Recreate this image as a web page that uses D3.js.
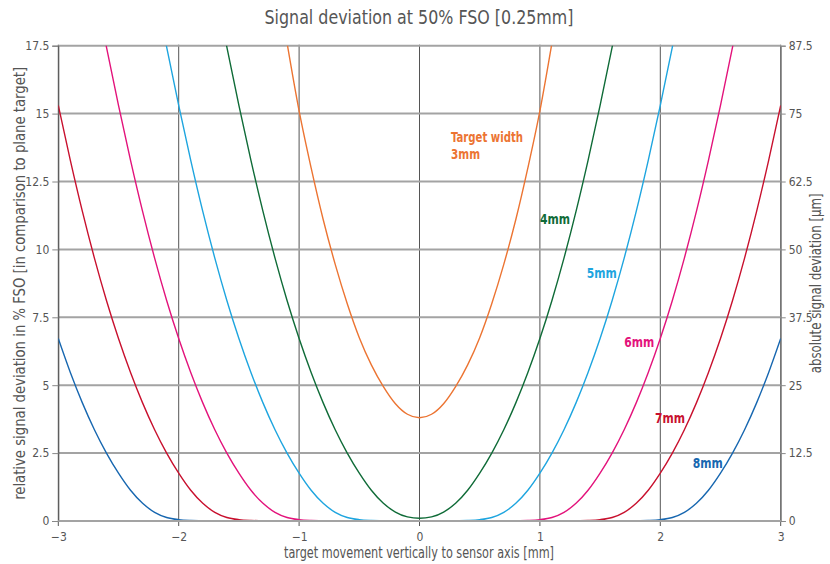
<!DOCTYPE html>
<html>
<head>
<meta charset="utf-8">
<script src="https://cdn.jsdelivr.net/npm/d3@7"></script>
<style>
  html, body { margin: 0; padding: 0; background: #fff; }
  svg { display: block; }
  text { font-family: "Liberation Sans Narrow", "DejaVu Sans Condensed", "Roboto", sans-serif; }
</style>
</head>
<body>
<svg id="chart" width="830" height="564"></svg>
<script>
// ---- data ----
const title = "Signal deviation at 50% FSO [0.25mm]";
const xTitle = "target movement vertically to sensor axis [mm]";
const yTitle = "relative signal deviation in % FSO [in comparison to plane target]";
const y2Title = "absolute signal deviation [\u03BCm]";

const xTicks = [-3, -2, -1, 0, 1, 2, 3];
const yTicks = [0, 2.5, 5, 7.5, 10, 12.5, 15, 17.5];
const yTickLabels = ["0", "2.5", "5", "7.5", "10", "12.5", "15", "17.5"];
const y2TickLabels = ["0", "12.5", "25", "37.5", "50", "62.5", "75", "87.5"];

const xs = [-3.0,-2.9,-2.8,-2.7,-2.6,-2.5,-2.4,-2.3,-2.2,-2.1,
            -2.0,-1.9,-1.8,-1.7,-1.6,-1.5,-1.4,-1.3,-1.2,-1.1,
            -1.0,-0.9,-0.8,-0.7,-0.6,-0.5,-0.4,-0.3,-0.2,-0.1,
             0.0,
             0.1, 0.2, 0.3, 0.4, 0.5, 0.6, 0.7, 0.8, 0.9, 1.0,
             1.1, 1.2, 1.3, 1.4, 1.5, 1.6, 1.7, 1.8, 1.9, 2.0,
             2.1, 2.2, 2.3, 2.4, 2.5, 2.6, 2.7, 2.8, 2.9, 3.0];

const seriesNames = ["8mm", "7mm", "6mm", "5mm", "4mm", "3mm"];
const seriesColors = ["#1767b0", "#c8102e", "#e3137b", "#1ea5df", "#0f6b37", "#ec7432"];

const w8 = [6.72,5.47,4.35,3.36,2.5,1.76,1.13,0.65,0.32,0.13,
            0.05,0.02,0.01,0,0,0,0,0,0,0,
            0,0,0,0,0,0,0,0,0,0,
            0,
            0,0,0,0,0,0,0,0,0,0,
            0,0,0,0,0,0,0,0.01,0.02,0.05,
            0.13,0.32,0.65,1.13,1.76,2.5,3.36,4.35,5.47,6.72];
const w7 = [15.3,13.28,11.4,9.68,8.12,6.72,5.47,4.35,3.36,2.5,
            1.76,1.13,0.65,0.32,0.13,0.05,0.02,0.01,0,0,
            0,0,0,0,0,0,0,0,0,0,
            0,
            0,0,0,0,0,0,0,0,0,0,
            0,0,0.01,0.02,0.05,0.13,0.32,0.65,1.13,1.76,
            2.5,3.36,4.35,5.47,6.72,8.12,9.68,11.4,13.28,15.3];
const w6 = [null,null,22.2,19.75,17.45,15.3,13.28,11.4,9.68,8.12,
            6.72,5.47,4.35,3.36,2.5,1.76,1.13,0.65,0.32,0.13,
            0.05,0.02,0.01,0,0,0,0,0,0,0,
            0,
            0,0,0,0,0,0,0,0.01,0.02,0.05,
            0.13,0.32,0.65,1.13,1.76,2.5,3.36,4.35,5.47,6.72,
            8.12,9.68,11.4,13.28,15.3,17.45,19.75,22.2,null,null];
const w5 = [null,null,null,null,null,null,null,22.2,19.75,17.45,
            15.3,13.28,11.4,9.68,8.12,6.72,5.47,4.35,3.36,2.5,
            1.76,1.13,0.65,0.32,0.13,0.05,0.02,0.01,0,0,
            0,
            0,0,0.01,0.02,0.05,0.13,0.32,0.65,1.13,1.76,
            2.5,3.36,4.35,5.47,6.72,8.12,9.68,11.4,13.28,15.3,
            17.45,19.75,22.2,null,null,null,null,null,null,null];
const w4 = [null,null,null,null,null,null,null,null,null,null,
            null,null,22.2,19.75,17.45,15.3,13.28,11.4,9.68,8.12,
            6.72,5.47,4.35,3.36,2.5,1.76,1.13,0.65,0.33,0.15,
            0.1,
            0.15,0.33,0.65,1.13,1.76,2.5,3.36,4.35,5.47,6.72,
            8.12,9.68,11.4,13.28,15.3,17.45,19.75,22.2,null,null,
            null,null,null,null,null,null,null,null,null,null];
const w3 = [null,null,null,null,null,null,null,null,null,null,
            null,null,null,null,null,null,null,null,20.3,17.6,
            15.1,13.0,11.1,9.45,8.0,6.75,5.75,4.95,4.32,3.93,
            3.8,
            3.93,4.32,4.95,5.75,6.75,8.0,9.45,11.1,13.0,15.1,
            17.6,20.3,null,null,null,null,null,null,null,null,
            null,null,null,null,null,null,null,null,null,null];
const seriesValues = [w8, w7, w6, w5, w4, w3];

// label anchors (data coords: x, y) for curve labels
const labelText = [["8mm"], ["7mm"], ["6mm"], ["5mm"], ["4mm"], ["Target width", "3mm"]];
const labelX = [2.27, 1.956, 1.70, 1.389, 1.0, 0.262];
const labelY = [1.94, 3.62, 6.42, 8.95, 10.95, 13.95];

// ---- drawing ----
const svg = d3.select("#chart");
const L = 58.3, R = 780.7, T = 45.7, B = 521;
const x = d3.scaleLinear().domain([-3, 3]).range([L, R]);
const y = d3.scaleLinear().domain([0, 17.5]).range([B, T]);
const y2 = d3.scaleLinear().domain([0, 87.5]).range([B, T]);

const textColor = "#555";
const ff = '"Liberation Sans Narrow", "DejaVu Sans Condensed", sans-serif';

// title
svg.append("text")
  .attr("x", 419).attr("y", 24)
  .attr("text-anchor", "middle")
  .attr("font-size", 19)
  .attr("textLength", 309).attr("lengthAdjust", "spacingAndGlyphs")
  .attr("fill", "#555")
  .text(title);

// vertical grid lines
svg.append("g").selectAll("line").data(xTicks).join("line")
  .attr("x1", d => x(d)).attr("x2", d => x(d))
  .attr("y1", T - 1).attr("y2", B + 5)
  .attr("stroke", "#555").attr("stroke-width", 1);

// horizontal grid lines (except zero, drawn later on top)
svg.append("g").selectAll("line").data(yTicks.filter(d => d > 0)).join("line")
  .attr("x1", L).attr("x2", R)
  .attr("y1", d => y(d)).attr("y2", d => y(d))
  .attr("stroke", "#a3a3a3").attr("stroke-width", 2);

// left / right axis ticks + labels
const yAxisL = d3.axisLeft(y).tickValues(yTicks).tickSize(6).tickPadding(3)
  .tickFormat((d, i) => yTickLabels[i]);
const gL = svg.append("g").attr("transform", `translate(${L},0)`).call(yAxisL);
gL.select(".domain").attr("stroke", "#555");
gL.selectAll(".tick line").attr("stroke", "#888");
gL.selectAll("text").attr("fill", textColor).attr("font-size", 12).style("font-family", ff);

const yAxisR = d3.axisRight(y2).tickValues(yTicks.map(v => v * 5)).tickSize(5).tickPadding(3)
  .tickFormat((d, i) => y2TickLabels[i]);
const gR = svg.append("g").attr("transform", `translate(${R},0)`).call(yAxisR);
gR.select(".domain").attr("stroke", "#777");
gR.selectAll(".tick line").attr("stroke", "#888");
gR.selectAll("text").attr("fill", textColor).attr("font-size", 12).style("font-family", ff);

// x axis labels
const xAxis = d3.axisBottom(x).tickValues(xTicks).tickSize(0).tickPadding(11)
  .tickFormat(d3.format("d"));
const gX = svg.append("g").attr("transform", `translate(0,${B})`).call(xAxis);
gX.select(".domain").remove();
gX.selectAll("text").attr("fill", textColor).attr("font-size", 12).style("font-family", ff);

// clip for curves
svg.append("defs").append("clipPath").attr("id", "plotclip")
  .append("rect").attr("x", L).attr("y", T).attr("width", R - L).attr("height", B - T + 2);

const line = d3.line()
  .defined(d => d[1] != null)
  .x(d => x(d[0])).y(d => y(d[1]))
  .curve(d3.curveMonotoneX);

const curves = svg.append("g").attr("clip-path", "url(#plotclip)");
seriesValues.forEach((vals, k) => {
  curves.append("path")
    .datum(xs.map((xv, i) => [xv, vals[i]]))
    .attr("fill", "none")
    .attr("stroke", seriesColors[k])
    .attr("stroke-width", 1.4)
    .attr("d", line);
});

// zero grid line on top
svg.append("line")
  .attr("x1", L).attr("x2", R).attr("y1", y(0)).attr("y2", y(0))
  .attr("stroke", "#a3a3a3").attr("stroke-width", 2);

// curve labels
const labelLen = { "8mm": 30, "7mm": 30, "6mm": 30, "5mm": 30, "4mm": 30, "3mm": 29, "Target width": 72 };
seriesNames.forEach((name, k) => {
  labelText[k].forEach((s, j) => {
    svg.append("text")
      .attr("x", x(labelX[k])).attr("y", y(labelY[k]) + j * 17)
      .attr("font-size", 14).attr("font-weight", "bold")
      .attr("textLength", labelLen[s]).attr("lengthAdjust", "spacingAndGlyphs")
      .attr("fill", seriesColors[k])
      .text(s);
  });
});

// axis titles
svg.append("text")
  .attr("x", 419).attr("y", 558)
  .attr("text-anchor", "middle").attr("font-size", 16).attr("fill", textColor)
  .attr("textLength", 270).attr("lengthAdjust", "spacingAndGlyphs")
  .text(xTitle);

svg.append("text")
  .attr("transform", `translate(25,${(T + B) / 2}) rotate(-90)`)
  .attr("text-anchor", "middle").attr("font-size", 16).attr("fill", textColor)
  .attr("textLength", 433).attr("lengthAdjust", "spacingAndGlyphs")
  .text(yTitle);

svg.append("text")
  .attr("transform", `translate(821,${(T + B) / 2}) rotate(-90)`)
  .attr("text-anchor", "middle").attr("font-size", 16).attr("fill", textColor)
  .attr("textLength", 180).attr("lengthAdjust", "spacingAndGlyphs")
  .text(y2Title);
</script>
</body>
</html>
